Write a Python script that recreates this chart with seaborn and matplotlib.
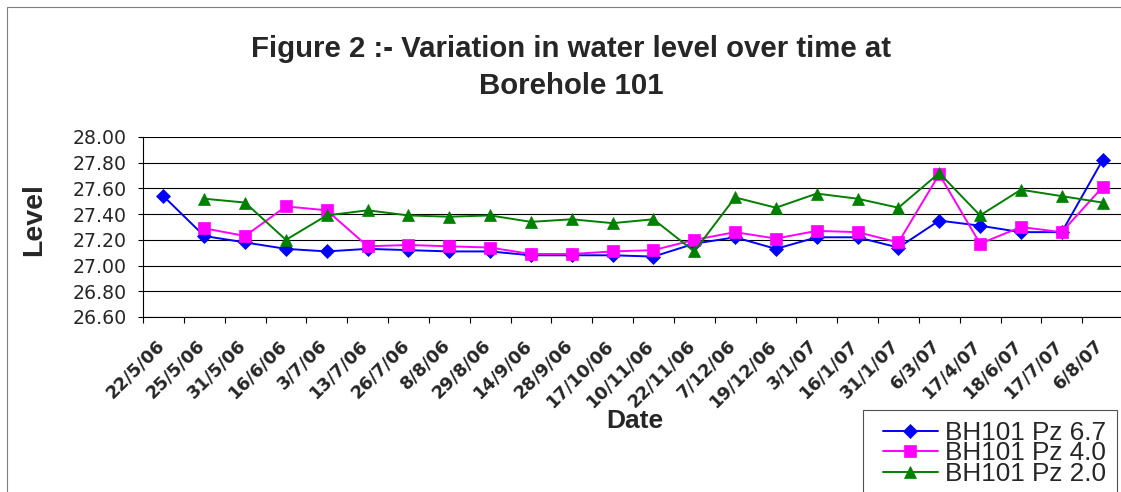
import numpy as np
import pandas as pd
import matplotlib
matplotlib.use("Agg")
import matplotlib.pyplot as plt
from matplotlib.patches import Rectangle
from matplotlib.transforms import ScaledTranslation
import seaborn as sns

# Sampling dates at Borehole 101
dates = ["22/5/06", "25/5/06", "31/5/06", "16/6/06", "3/7/06", "13/7/06",
         "26/7/06", "8/8/06", "29/8/06", "14/9/06", "28/9/06", "17/10/06",
         "10/11/06", "22/11/06", "7/12/06", "19/12/06", "3/1/07", "16/1/07",
         "31/1/07", "6/3/07", "17/4/07", "18/6/07", "17/7/07", "6/8/07"]

# Water levels for each piezometer
level_pz67 = [27.54, 27.23, 27.18, 27.13, 27.11, 27.13, 27.12, 27.11, 27.11,
              27.08, 27.08, 27.08, 27.07, 27.17, 27.22, 27.13, 27.22, 27.22,
              27.14, 27.35, 27.31, 27.26, 27.26, 27.82]
level_pz40 = [np.nan, 27.29, 27.23, 27.46, 27.43, 27.15, 27.16, 27.15, 27.14,
              27.09, 27.09, 27.11, 27.12, 27.20, 27.26, 27.21, 27.27, 27.26,
              27.18, 27.71, 27.17, 27.30, 27.26, 27.61]
level_pz20 = [np.nan, 27.52, 27.49, 27.20, 27.39, 27.43, 27.39, 27.38, 27.39,
              27.34, 27.36, 27.33, 27.36, 27.11, 27.53, 27.45, 27.56, 27.52,
              27.45, 27.72, 27.39, 27.59, 27.54, 27.49]

series_names = ["BH101 Pz 6.7", "BH101 Pz 4.0", "BH101 Pz 2.0"]
y_ticks = [26.6, 26.8, 27.0, 27.2, 27.4, 27.6, 27.8, 28.0]

sns.set_style("white")
plt.rcParams["font.family"] = ["Liberation Sans", "DejaVu Sans"]

W, H = 1121, 492
fig = plt.figure(figsize=(W / 100, H / 100), dpi=100)
fig.patch.set_facecolor("white")
ax = fig.add_axes([143 / W, 1 - 317 / H, 980 / W, 180 / H])

wide = pd.DataFrame({"pos": np.arange(len(dates)), "date": dates,
                     series_names[0]: level_pz67,
                     series_names[1]: level_pz40,
                     series_names[2]: level_pz20})
df = wide.melt(id_vars=["pos", "date"], var_name="series",
               value_name="level").dropna()

styles = {
    "BH101 Pz 6.7": dict(color="#0000FF", marker="D", ms=7.5),
    "BH101 Pz 4.0": dict(color="#FF00FF", marker="s", ms=8.2),
    "BH101 Pz 2.0": dict(color="#008000", marker="^", ms=9.0),
}
for name in series_names:
    st = styles[name]
    sns.lineplot(data=df[df["series"] == name], x="pos", y="level", ax=ax,
                 color=st["color"], marker=st["marker"], markersize=st["ms"],
                 markeredgecolor=st["color"], markeredgewidth=0.5,
                 linewidth=1.4, errorbar=None, legend=False, zorder=3)

# Axes styling
ax.set_xlim(-0.5, len(dates) - 0.5)
ax.set_ylim(26.6, 28.0)
ax.set_yticks(y_ticks)
ax.set_yticklabels([f"{v:.2f}" for v in y_ticks])
ax.yaxis.grid(True, color="black", linewidth=0.8)
ax.xaxis.grid(False)
ax.set_axisbelow(True)
for side in ["top", "right"]:
    ax.spines[side].set_visible(False)
for side in ["left", "bottom"]:
    ax.spines[side].set_color("black")
    ax.spines[side].set_linewidth(0.8)

ax.set_xticks(np.arange(len(dates)))
ax.set_xticklabels(dates)
ax.set_xticks(np.arange(len(dates) + 1) - 0.5, minor=True)
ax.tick_params(axis="x", which="major", bottom=True, length=0, pad=18.5,
               labelsize=12.8)
ax.tick_params(axis="x", which="minor", bottom=True, length=4.3, width=0.8,
               color="black", direction="out")
ax.tick_params(axis="y", which="major", left=True, length=3.6, width=0.8,
               color="black", direction="out", pad=8, labelsize=13.6)
shift = ScaledTranslation(-2 / 100, 0, fig.dpi_scale_trans)
for lbl in ax.get_xticklabels():
    lbl.set(rotation=45, ha="right", va="center", rotation_mode="anchor",
            fontweight="bold", family="DejaVu Sans")
    lbl.set_transform(lbl.get_transform() + shift)
for lbl in ax.get_yticklabels():
    lbl.set(family="DejaVu Sans")

ax.set_xlabel("Date", fontsize=19, fontweight="bold", va="baseline")
ax.xaxis.set_label_coords((635 - 143) / 980, (317 - 428) / 180)
ax.set_ylabel("Level", fontsize=20.5, fontweight="bold", va="baseline")
ax.yaxis.set_label_coords((41 - 143) / 980, (317 - 220) / 180)

# Title
fig.text(571 / W, 1 - 57 / H,
         "Figure 2 :- Variation in water level over time at",
         ha="center", va="baseline", fontsize=21.2, fontweight="bold")
fig.text(571 / W, 1 - 94 / H, "Borehole 101",
         ha="center", va="baseline", fontsize=21.2, fontweight="bold")

# Legend
ax.legend(ax.lines[:3], series_names, loc="upper left",
          bbox_to_anchor=(883 / W, 1 - 421 / H),
          bbox_transform=fig.transFigure, frameon=False, borderpad=0,
          borderaxespad=0, handlelength=2.1, handletextpad=0.27,
          labelspacing=-0.14, numpoints=1,
          prop={"family": "Liberation Sans", "size": 18.8})
fig.add_artist(Rectangle((863 / W, -0.05), (1117 - 863) / W,
                         (1 - 410 / H) + 0.05, transform=fig.transFigure,
                         fill=False, edgecolor="#505050", linewidth=0.8))

# Chart-area border
fig.add_artist(Rectangle((7 / W, -0.1), 1.2, (1 - 7 / H) + 0.1,
                         transform=fig.transFigure, fill=False,
                         edgecolor="#808080", linewidth=0.8))

fig.savefig("out.png", dpi=100)
